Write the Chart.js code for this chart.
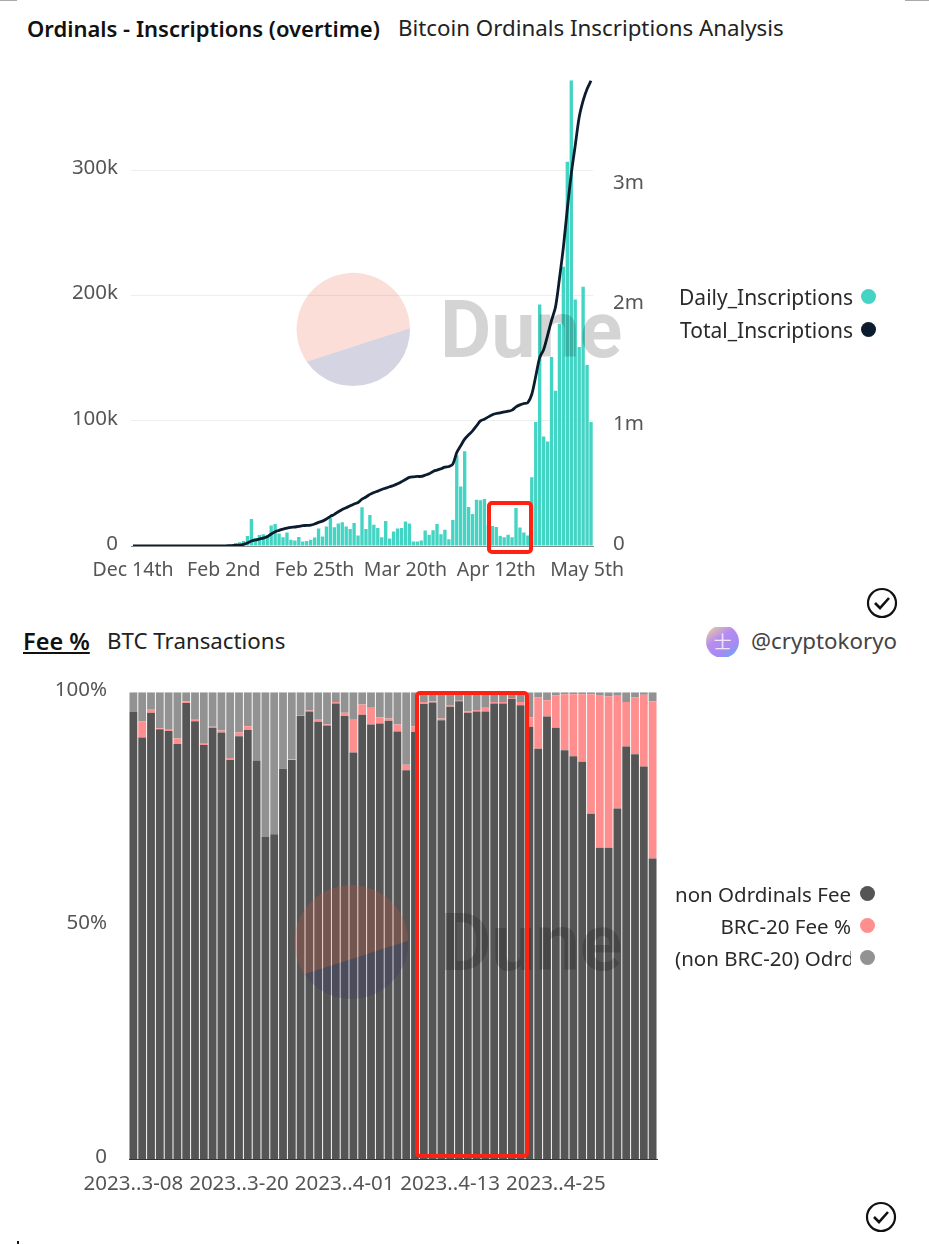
<!DOCTYPE html>
<html>
<head>
<meta charset="utf-8">
<title>Ordinals - Inscriptions</title>
<script src="https://cdn.jsdelivr.net/npm/chart.js@4"></script>
<style>
  html, body { margin: 0; padding: 0; background: #fff; }
  body { position: relative; width: 929px; height: 1244px; overflow: hidden; font-family: "Noto Sans", sans-serif; color: #222; }
  canvas { position: absolute; left: 0; }
  #chart1 { top: 55px; }
  #chart2 { top: 666px; }
  .txt { position: absolute; white-space: nowrap; font-size: 22.3px; line-height: 28px; }
  .bold { font-weight: 600; color: #111; font-size: 22px; }
  .leg { position: absolute; left: 660px; height: 28px; line-height: 28px; font-size: 21px; overflow: hidden; white-space: nowrap; color: #2a2a2a; text-align: right; }
  .leg2 { font-size: 20.5px; }
  .dot { position: absolute; width: 15px; height: 15px; border-radius: 50%; }
  .redbox { position: absolute; border: 4px solid #ff2112; border-radius: 5px; box-sizing: border-box; }
  .edge { position: absolute; background: #aaa; }
  svg.over { position: absolute; left: 0; top: 0; pointer-events: none; }
  #avatar { position: absolute; left: 706px; top: 627px; width: 33px; height: 30px; overflow: hidden; }
  #avatar div { position: absolute; left: 0; top: -2px; width: 33px; height: 33px; border-radius: 50%; background: linear-gradient(145deg, #f0d890 2%, #b78cf0 40%, #a58af2 70%, #4fb8f5 100%); color: #f0e4f8; font: 18px/33px "Noto Sans CJK SC"; text-align: center; }
</style>
</head>
<body>
<div class="edge" style="left:0;top:0;width:17px;height:1px"></div>
<div class="edge" style="left:905px;top:0;width:24px;height:1px"></div>
<div class="edge" style="left:17px;top:1241px;width:2px;height:3px;background:#111"></div>

<div class="txt bold" style="left:27px;top:14px">Ordinals - Inscriptions (overtime)</div>
<div class="txt" style="left:398px;top:14px">Bitcoin Ordinals Inscriptions Analysis</div>
<div class="txt bold" style="left:23px;top:627px;font-size:23.5px;text-decoration:underline">Fee %</div>
<div class="txt" style="left:107px;top:627px">BTC Transactions</div>
<div id="avatar"><div>士</div></div>
<div class="txt" style="left:751px;top:627px;color:#444">@cryptokoryo</div>

<canvas id="chart1" width="660" height="535"></canvas>
<canvas id="chart2" width="670" height="544"></canvas>

<svg class="over" width="929" height="1244">
  <!-- dune watermarks -->
  <path d="M306.7 361.7 A56.7 56.7 0 1 1 410 328.3 Z" fill="rgba(240,90,60,.2)"/>
  <path d="M306.7 361.7 A56.7 56.7 0 0 0 410 328.3 Z" fill="rgba(45,40,115,.2)"/>
  <text x="440" y="357" font-family="Roboto" font-weight="700" font-size="79" fill="rgba(0,0,0,.17)">Dune</text>
  <path d="M304.3 974.3 A57 57 0 1 1 408.3 940.7 Z" fill="rgba(240,90,60,.2)"/>
  <path d="M304.3 974.3 A57 57 0 0 0 408.3 940.7 Z" fill="rgba(45,40,115,.2)"/>
  <text x="440" y="970" font-family="Roboto" font-weight="700" font-size="79" fill="rgba(0,0,0,.17)">Dune</text>
  <!-- check icons -->
  <g fill="none" stroke="#111" stroke-width="2.2">
    <circle cx="882" cy="603" r="14"/>
    <path d="M875 603 l5 5 l9 -10" stroke-width="2.6"/>
    <circle cx="881" cy="1217" r="14"/>
    <path d="M874 1217 l5 5 l9 -10" stroke-width="2.6"/>
  </g>
</svg>

<div class="redbox" style="left:487px;top:501px;width:46px;height:53px"></div>
<div class="redbox" style="left:415px;top:691px;width:114px;height:467px"></div>

<div class="leg" style="top:283px;width:193px">Daily_Inscriptions</div>
<div class="dot" style="left:861px;top:289px;background:#44d4c4"></div>
<div class="leg" style="top:316px;width:193px">Total_Inscriptions</div>
<div class="dot" style="left:861px;top:322px;background:#0b1c2e"></div>

<div class="leg leg2" style="left:675px;top:880px;width:176px;text-align:left">non Odrdinals Fee %</div>
<div class="dot" style="left:860px;top:886px;background:#555"></div>
<div class="leg leg2" style="left:675px;top:912px;width:176px">BRC-20 Fee %</div>
<div class="dot" style="left:860px;top:918px;background:#ff8f8f"></div>
<div class="leg leg2" style="left:675px;top:944px;width:176px;text-align:left">(non BRC-20) Odrdinals Fee %</div>
<div class="dot" style="left:860px;top:950px;background:#929292"></div>

<script>
// top chart
var dayLabels = [
  "Dec 14th","Dec 15th","Dec 16th","Dec 17th","Dec 18th","Dec 19th","Dec 20th","Dec 21st","Dec 22nd","Dec 23rd",
  "Dec 26th","Dec 28th","Dec 30th","Jan 2nd","Jan 5th","Jan 8th","Jan 11th","Jan 14th","Jan 17th","Jan 20th",
  "Jan 23rd","Jan 26th","Jan 30th",
  "Feb 2nd","Feb 3rd","Feb 4th","Feb 5th","Feb 6th","Feb 7th","Feb 8th","Feb 9th","Feb 10th","Feb 11th","Feb 12th",
  "Feb 13th","Feb 14th","Feb 15th","Feb 16th","Feb 17th","Feb 18th","Feb 19th","Feb 20th","Feb 21st","Feb 22nd",
  "Feb 23rd","Feb 24th","Feb 25th","Feb 26th","Feb 27th","Feb 28th",
  "Mar 1st","Mar 2nd","Mar 3rd","Mar 4th","Mar 5th","Mar 6th","Mar 7th","Mar 8th","Mar 9th","Mar 10th","Mar 11th",
  "Mar 12th","Mar 13th","Mar 14th","Mar 15th","Mar 16th","Mar 17th","Mar 18th","Mar 19th","Mar 20th","Mar 21st",
  "Mar 22nd","Mar 23rd","Mar 24th","Mar 25th","Mar 26th","Mar 27th","Mar 28th","Mar 29th","Mar 30th","Mar 31st",
  "Apr 1st","Apr 2nd","Apr 3rd","Apr 4th","Apr 5th","Apr 6th","Apr 7th","Apr 8th","Apr 9th","Apr 10th","Apr 11th",
  "Apr 12th","Apr 13th","Apr 14th","Apr 15th","Apr 16th","Apr 17th","Apr 18th","Apr 19th","Apr 20th","Apr 21st",
  "Apr 22nd","Apr 23rd","Apr 24th","Apr 25th","Apr 26th","Apr 27th","Apr 28th","Apr 29th","Apr 30th",
  "May 1st","May 2nd","May 3rd","May 4th","May 5th","May 6th"
];
var dayTicks = ["Dec 14th","Feb 2nd","Feb 25th","Mar 20th","Apr 12th","May 5th"];
var dailyTicks = [0, 100000, 200000, 300000];
var totalTicks = [0, 1000000, 2000000, 3000000];
var dailyInscriptions = [
  0,0,0,0,0,0,0,0,0,0,0,0,0,0,0,0,0,0,0,0,0,0,0,
  300,600,1200,2400,2900,4000,8000,21600,6400,8800,9300,8800,16300,17600,10000,7000,10700,5000,4300,7200,3500,4000,
  5000,6700,14000,7500,15500,22400,15000,18000,19000,15500,13600,18400,8300,31000,13600,24800,17000,14400,7000,20000,
  6000,11500,14000,14400,19500,18000,3500,3500,4300,12300,9000,12500,17600,9300,13000,5300,20800,72500,47500,75700,
  31200,25600,37000,36500,37600,17000,16000,15200,8000,7000,9000,7000,30400,14700,10700,8300,55000,99000,193000,
  87500,83500,151000,124000,177600,223000,307000,372000,197000,159000,207000,144500,99000
];
var totalInscriptions = [
  0,0,0,0,0,0,0,0,0,0,0,0,0,0,0,0,0,0,0,0,0,0,0,
  1000,2000,3000,6000,8000,14000,25000,41000,50000,58000,66000,77000,100000,119000,130000,141000,149000,155000,158000,
  163000,169000,171000,174000,183000,196000,207000,224000,246000,263000,285000,304000,318000,335000,349000,362000,
  390000,407000,429000,445000,456000,470000,481000,492000,503000,517000,534000,553000,570000,575000,578000,578000,
  589000,600000,620000,631000,642000,655000,661000,680000,777000,833000,888000,924000,957000,998000,1040000,1054000,
  1073000,1090000,1101000,1106000,1115000,1120000,1129000,1156000,1173000,1184000,1192000,1261000,1410000,1566000,
  1632000,1751000,1875000,1986000,2221000,2484000,2802000,3093000,3328000,3563000,3701000,3798000,3867000
];

// bottom chart
var feeDates = [
  "2023-03-08","2023-03-09","2023-03-10","2023-03-11","2023-03-12","2023-03-13","2023-03-14","2023-03-15","2023-03-16","2023-03-17",
  "2023-03-18","2023-03-19","2023-03-20","2023-03-21","2023-03-22","2023-03-23","2023-03-24","2023-03-25","2023-03-26","2023-03-27",
  "2023-03-28","2023-03-29","2023-03-30","2023-03-31","2023-04-01","2023-04-02","2023-04-03","2023-04-04","2023-04-05","2023-04-06",
  "2023-04-07","2023-04-08","2023-04-09","2023-04-10","2023-04-11","2023-04-12","2023-04-13","2023-04-14","2023-04-15","2023-04-16",
  "2023-04-17","2023-04-18","2023-04-19","2023-04-20","2023-04-21","2023-04-22","2023-04-23","2023-04-24","2023-04-25","2023-04-26",
  "2023-04-27","2023-04-28","2023-04-29","2023-04-30","2023-05-01","2023-05-02","2023-05-03","2023-05-04","2023-05-05","2023-05-06"
];
var feeTicks = { "2023-03-08": "2023..3-08", "2023-03-20": "2023..3-20", "2023-04-01": "2023..4-01", "2023-04-13": "2023..4-13", "2023-04-25": "2023..4-25" };
var nonOrdinalsFee = [
  95.8,90.3,95.6,92.1,91.7,88.9,97.7,93.8,88.7,92.4,91.4,85.5,90.6,91.9,85.4,69,69.6,83.6,85.5,94.9,
  95.9,93.7,92.9,97.6,94.9,87.1,95.2,93.1,93.3,93.9,91.6,83.3,91.5,97.5,97.8,94,96.9,98.1,95.6,95.9,
  95.9,97.6,97.6,98.6,97.2,92.6,87.9,94.8,92.4,87.6,86.3,85.1,74,66.7,66.7,75.1,88.4,86.7,84.1,64.4
];
var brc20Fee = [
  0,3.5,0.8,0.2,0.3,1.2,0.4,0.3,0.3,0.2,0.4,0.4,0.8,0.8,0,0,0,0,0.1,0.1,
  0.2,0.4,0.2,0.3,0.7,7,2.2,3.6,1.3,0.5,1.5,1.2,1.2,0.4,0.3,0.4,0.2,0.1,0.3,0.3,
  0.8,0.3,0.3,0.2,0.7,2,11,3.5,6.9,12,13.3,14.5,25.6,32.7,32.4,24.3,9.5,12.2,15.4,33.7
];
var otherOrdinalsFee = [
  4.2,6.2,3.6,7.7,8,9.9,1.9,5.9,11,7.4,8.2,14.1,8.6,7.3,14.6,31,30.4,16.4,14.4,5,
  3.9,5.9,6.9,2.1,4.4,5.9,2.6,3.3,5.4,5.6,6.9,15.5,7.3,2.1,1.9,5.6,2.9,1.8,4.1,3.8,
  3.3,2.1,2.1,1.2,2.1,5.4,1.1,1.7,0.7,0.4,0.4,0.4,0.4,0.6,0.9,0.6,2.1,1.1,0.5,1.9
];
var feeAxisTicks = [0, 50, 100];

var tickColor = "#555";

new Chart(document.getElementById("chart1"), {
  type: "bar",
  data: {
    labels: dayLabels,
    datasets: [
      {
        type: "line",
        label: "Total_Inscriptions",
        data: totalInscriptions,
        yAxisID: "y2",
        borderColor: "#0b1c2e",
        borderWidth: 2.8,
        pointRadius: 0,
        tension: 0.3,
        order: 0,
      },
      {
        label: "Daily_Inscriptions",
        data: dailyInscriptions,
        yAxisID: "y",
        backgroundColor: "#44d4c4",
        barPercentage: 0.85,
        categoryPercentage: 1,
        order: 1,
      },
    ],
  },
  options: {
    responsive: false,
    animation: false,
    layout: { padding: { top: 15 } },
    plugins: { legend: { display: false }, tooltip: { enabled: false } },
    scales: {
      x: {
        grid: { display: false },
        border: { color: "#888" },
        afterFit: function (s) { s.height = 44; },
        ticks: {
          autoSkip: false,
          maxRotation: 0,
          font: { family: "Noto Sans", size: 19.5 },
          color: tickColor,
          padding: 5,
          callback: function (v, i) {
            var lab = this.getLabelForValue(v);
            return dayTicks.indexOf(lab) >= 0 ? lab : null;
          },
        },
      },
      y: {
        min: 0,
        max: 372000,
        grid: { color: "#eeeeee", drawTicks: false },
        border: { display: false },
        afterBuildTicks: function (s) { s.ticks = dailyTicks.map(function (v) { return { value: v }; }); },
        afterFit: function (s) { s.width = 131; },
        ticks: {
          autoSkip: false,
          font: { family: "Noto Sans", size: 20.5 },
          color: tickColor,
          padding: 13,
          labelOffset: -2,
          callback: function (v) { return v === 0 ? "0" : v / 1000 + "k"; },
        },
      },
      y2: {
        position: "right",
        min: 0,
        max: 3870000,
        grid: { display: false },
        border: { display: false },
        afterBuildTicks: function (s) { s.ticks = totalTicks.map(function (v) { return { value: v }; }); },
        afterFit: function (s) { s.width = 67; },
        ticks: {
          autoSkip: false,
          font: { family: "Noto Sans", size: 20.5 },
          color: tickColor,
          padding: 12,
          labelOffset: -2,
          callback: function (v) { return v === 0 ? "0" : v / 1000000 + "m"; },
        },
      },
    },
  },
});

function feeSet(label, data, color) {
  return { label: label, data: data, backgroundColor: color, barPercentage: 0.89, categoryPercentage: 1 };
}

new Chart(document.getElementById("chart2"), {
  type: "bar",
  data: {
    labels: feeDates,
    datasets: [
      feeSet("non Odrdinals Fee %", nonOrdinalsFee, "#555555"),
      feeSet("BRC-20 Fee %", brc20Fee, "#ff8f8f"),
      feeSet("(non BRC-20) Odrdinals Fee %", otherOrdinalsFee, "#929292"),
    ],
  },
  options: {
    responsive: false,
    animation: false,
    layout: { padding: { top: 9, right: 13 } },
    plugins: { legend: { display: false }, tooltip: { enabled: false } },
    scales: {
      x: {
        stacked: true,
        grid: { display: false },
        border: { color: "#333" },
        afterFit: function (s) { s.height = 51; },
        ticks: {
          autoSkip: false,
          maxRotation: 0,
          font: { family: "Noto Sans", size: 20.5 },
          color: tickColor,
          padding: 5,
          callback: function (v) {
            return feeTicks[this.getLabelForValue(v)] || null;
          },
        },
      },
      y: {
        stacked: true,
        min: 0,
        max: 100,
        grid: { display: false },
        border: { display: false },
        afterBuildTicks: function (s) { s.ticks = feeAxisTicks.map(function (v) { return { value: v }; }); },
        afterFit: function (s) { s.width = 129; },
        ticks: {
          font: { family: "Noto Sans", size: 20.5 },
          color: tickColor,
          padding: 14,
          labelOffset: -2,
          callback: function (v) { return v === 0 ? "0" : v + "%"; },
        },
      },
    },
  },
});
</script>
</body>
</html>
